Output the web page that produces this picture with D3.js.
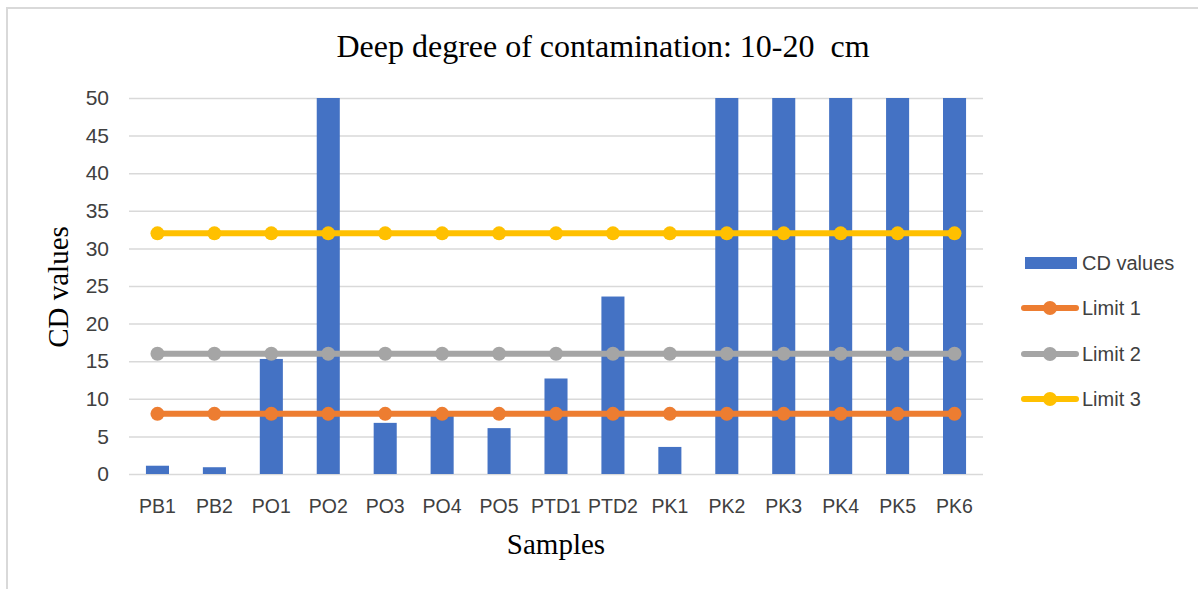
<!DOCTYPE html>
<html>
<head>
<meta charset="utf-8">
<script src="https://cdn.jsdelivr.net/npm/d3@7"></script>
<style>
  html, body { margin: 0; padding: 0; background: #fff; }
  svg { display: block; }
</style>
</head>
<body>
<svg id="chart" width="1198" height="589"></svg>
<script>
const categories = ["PB1","PB2","PO1","PO2","PO3","PO4","PO5","PTD1","PTD2","PK1","PK2","PK3","PK4","PK5","PK6"];
const cdValues = [1.1, 0.9, 15.3, 50, 6.8, 7.8, 6.1, 12.7, 23.6, 3.6, 50, 50, 50, 50, 50];
const limit1 = [8,8,8,8,8,8,8,8,8,8,8,8,8,8,8];
const limit2 = [16,16,16,16,16,16,16,16,16,16,16,16,16,16,16];
const limit3 = [32,32,32,32,32,32,32,32,32,32,32,32,32,32,32];
const yTicks = [0,5,10,15,20,25,30,35,40,45,50];
const seriesNames = ["CD values","Limit 1","Limit 2","Limit 3"];
const titleText = "Deep degree of contamination: 10-20\u00a0 cm";
const xTitle = "Samples";
const yTitle = "CD values";

const colors = { bar: "#4472C4", l1: "#ED7D31", l2: "#A5A5A5", l3: "#FFC000" };
const sans = "'Liberation Sans', Arial, sans-serif";
const serif = "'Liberation Serif', 'Times New Roman', serif";

const svg = d3.select("#chart");
const plot = { left: 129, right: 983, top: 98, bottom: 474 };

// chart border
svg.append("rect").attr("x", 7).attr("y", 8).attr("width", 1300).attr("height", 700)
  .attr("fill", "#fff").attr("stroke", "#d9d9d9").attr("stroke-width", 2);

const x = d3.scaleBand().domain(categories).range([plot.left, plot.right]).padding(0);
const y = d3.scaleLinear().domain([0, 50]).range([plot.bottom, plot.top]);

// gridlines
const grid = svg.append("g").attr("transform", `translate(${plot.left},0)`)
  .call(d3.axisLeft(y).tickValues(yTicks).tickSize(-(plot.right - plot.left)).tickFormat(""));
grid.select(".domain").remove();
grid.selectAll("line").attr("stroke", "#d9d9d9").attr("stroke-width", 1.5);

// y axis labels
const yAxis = svg.append("g").attr("transform", `translate(${plot.left},0)`)
  .call(d3.axisLeft(y).tickValues(yTicks).tickSize(0).tickPadding(20));
yAxis.select(".domain").remove();
yAxis.selectAll("text").attr("font-family", sans).attr("font-size", 21).attr("fill", "#404040");

// x axis labels
const xAxis = svg.append("g").attr("transform", `translate(0,${plot.bottom})`)
  .call(d3.axisBottom(x).tickSize(0).tickPadding(25));
xAxis.select(".domain").remove();
xAxis.selectAll("text").attr("font-family", sans).attr("font-size", 19.5).attr("fill", "#404040");

// bars
const bw = x.bandwidth() * 0.405;
svg.append("g").selectAll("rect").data(categories).join("rect")
  .attr("x", (d) => x(d) + (x.bandwidth() - bw) / 2)
  .attr("width", bw)
  .attr("y", (d, i) => y(cdValues[i]))
  .attr("height", (d, i) => y(0) - y(cdValues[i]))
  .attr("fill", colors.bar);

// lines
const cx = (d) => x(d) + x.bandwidth() / 2;
[[limit1, colors.l1], [limit2, colors.l2], [limit3, colors.l3]].forEach(([vals, col]) => {
  const line = d3.line().x((d) => cx(d)).y((d, i) => y(vals[i]));
  const g = svg.append("g");
  g.append("path").datum(categories).attr("d", line)
    .attr("fill", "none").attr("stroke", col).attr("stroke-width", 6).attr("stroke-linecap", "round");
  g.selectAll("circle").data(categories).join("circle")
    .attr("cx", (d) => cx(d)).attr("cy", (d, i) => y(vals[i])).attr("r", 7).attr("fill", col);
});

// title
svg.append("text").attr("x", 603).attr("y", 57).attr("text-anchor", "middle")
  .attr("font-family", serif).attr("font-size", 32).attr("fill", "#000").text(titleText);
svg.append("text").attr("x", 556).attr("y", 554).attr("text-anchor", "middle")
  .attr("font-family", serif).attr("font-size", 29).attr("fill", "#000").text(xTitle);
svg.append("text").attr("transform", "translate(68,287) rotate(-90)").attr("text-anchor", "middle")
  .attr("font-family", serif).attr("font-size", 29).attr("fill", "#000").text(yTitle);

// legend
const legendY = [263, 308, 354, 399];
const legendColors = [colors.bar, colors.l1, colors.l2, colors.l3];
const lg = svg.append("g");
seriesNames.forEach((name, i) => {
  const yy = legendY[i];
  if (i === 0) {
    lg.append("rect").attr("x", 1025).attr("y", yy - 6).attr("width", 52).attr("height", 12).attr("fill", legendColors[i]);
  } else {
    lg.append("line").attr("x1", 1024).attr("x2", 1076).attr("y1", yy).attr("y2", yy)
      .attr("stroke", legendColors[i]).attr("stroke-width", 6).attr("stroke-linecap", "round");
    lg.append("circle").attr("cx", 1050).attr("cy", yy).attr("r", 7).attr("fill", legendColors[i]);
  }
  lg.append("text").attr("x", 1082).attr("y", yy).attr("dy", "0.35em")
    .attr("font-family", sans).attr("font-size", 20).attr("fill", "#404040").text(name);
});
</script>
</body>
</html>
